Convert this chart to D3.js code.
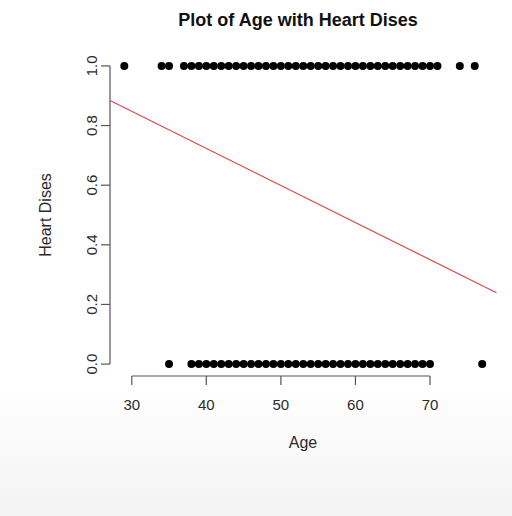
<!DOCTYPE html>
<html>
<head>
<meta charset="utf-8">
<script src="https://d3js.org/d3.v7.min.js"></script>
<style>
  body { margin: 0; background: #fff; }
  svg { display: block; font-family: "Liberation Sans", Arial, sans-serif; }
</style>
</head>
<body>
<svg id="chart" width="512" height="516"></svg>
<script>
// ages of patients with / without heart disease
var agesYes = [29, 34, 35, 37, 38, 39, 40, 41, 42, 43, 44, 45, 46, 47, 48, 49, 50, 51, 52, 53, 54,
               55, 56, 57, 58, 59, 60, 61, 62, 63, 64, 65, 66, 67, 68, 69, 70, 71, 74, 76];
var agesNo = [35, 38, 39, 40, 41, 42, 43, 44, 45, 46, 47, 48, 49, 50, 51, 52, 53, 54, 55, 56,
              57, 58, 59, 60, 61, 62, 63, 64, 65, 66, 67, 68, 69, 70, 77];
var xTicks = [30, 40, 50, 60, 70];
var yTicks = [0, 0.2, 0.4, 0.6, 0.8, 1.0];
// fitted line (abline)
var intercept = 1.221;
var slope = -0.01244;

var svg = d3.select("#chart");

// faint shading at the bottom like the photo
var defs = svg.append("defs");
var grad = defs.append("linearGradient").attr("id", "bg").attr("x1", 0).attr("y1", 0).attr("x2", 0).attr("y2", 1);
grad.append("stop").attr("offset", "0").attr("stop-color", "#ffffff");
grad.append("stop").attr("offset", "1").attr("stop-color", "#f3f3f3");
svg.append("rect").attr("x", 0).attr("y", 385).attr("width", 512).attr("height", 131).attr("fill", "url(#bg)");

var points = agesYes.map(function(a) { return {age: a, v: 1}; })
  .concat(agesNo.map(function(a) { return {age: a, v: 0}; }));

var xmin = d3.min(points, d => d.age), xmax = d3.max(points, d => d.age);
var pad = (xmax - xmin) * 0.04;
var x = d3.scaleLinear().domain([xmin - pad, xmax + pad]).range([110, 496.5]);
var y = d3.scaleLinear().domain([-0.04, 1.04]).range([376, 54]);

var axisColor = "#555";
var textColor = "#2b2b2b";

// x axis
var xa = svg.append("g");
xa.append("line").attr("x1", x(30)).attr("x2", x(70)).attr("y1", 376).attr("y2", 376)
  .attr("stroke", axisColor).attr("stroke-width", 1.2);
xa.selectAll(".xt").data(xTicks).enter().append("line")
  .attr("x1", d => x(d)).attr("x2", d => x(d)).attr("y1", 376).attr("y2", 385)
  .attr("stroke", axisColor).attr("stroke-width", 1.2);
xa.selectAll(".xl").data(xTicks).enter().append("text")
  .attr("x", d => x(d)).attr("y", 410).attr("text-anchor", "middle")
  .attr("font-size", 15).attr("fill", textColor).text(d => d);

// y axis
var ya = svg.append("g");
ya.append("line").attr("x1", 110).attr("x2", 110).attr("y1", y(0)).attr("y2", y(1))
  .attr("stroke", axisColor).attr("stroke-width", 1.2);
ya.selectAll(".yt").data(yTicks).enter().append("line")
  .attr("x1", 101).attr("x2", 110).attr("y1", d => y(d)).attr("y2", d => y(d))
  .attr("stroke", axisColor).attr("stroke-width", 1.2);
ya.selectAll(".yl").data(yTicks).enter().append("text")
  .attr("transform", d => "translate(97," + y(d) + ") rotate(-90)")
  .attr("text-anchor", "middle").attr("font-size", 15).attr("fill", textColor)
  .text(d => d.toFixed(1));

// labels
svg.append("text").attr("x", 298).attr("y", 26).attr("text-anchor", "middle")
  .attr("font-size", 18).attr("font-weight", "bold").attr("fill", "#111")
  .text("Plot of Age with Heart Dises");
svg.append("text").attr("x", 303).attr("y", 448).attr("text-anchor", "middle")
  .attr("font-size", 16).attr("fill", textColor).text("Age");
svg.append("text").attr("transform", "translate(51,215) rotate(-90)")
  .attr("text-anchor", "middle").attr("font-size", 16).attr("fill", textColor).text("Heart Dises");

// points
svg.append("g").selectAll("circle").data(points).enter().append("circle")
  .attr("cx", d => x(d.age)).attr("cy", d => y(d.v)).attr("r", 4).attr("fill", "#000");

// fitted line
var xd = x.domain();
svg.append("line")
  .attr("x1", x(xd[0])).attr("y1", y(intercept + slope * xd[0]))
  .attr("x2", x(xd[1])).attr("y2", y(intercept + slope * xd[1]))
  .attr("stroke", "#e0474c").attr("stroke-width", 1.2);
</script>
</body>
</html>
